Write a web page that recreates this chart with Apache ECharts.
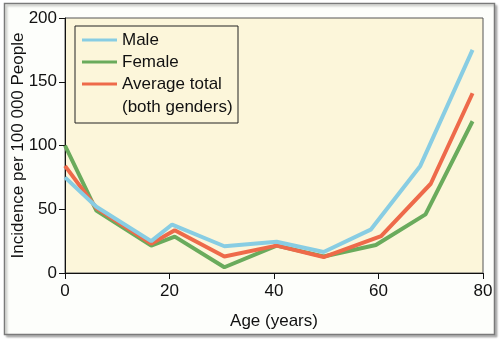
<!DOCTYPE html>
<html>
<head>
<meta charset="utf-8">
<script src="https://cdn.jsdelivr.net/npm/echarts@6/dist/echarts.min.js"></script>
<style>
  html, body { margin: 0; padding: 0; background: #ffffff; }
  #chart { width: 500px; height: 339px; }
</style>
</head>
<body>
<div id="chart"></div>
<script>
// Incidence per 100 000 people by age, [age, incidence] pairs
const maleData = [[0, 75], [6, 52], [16.5, 25], [20.5, 38], [30.5, 21], [40.5, 24.5], [49.5, 16.5], [58.5, 34], [68, 84], [78, 175]];
const femaleData = [[0, 100], [6, 49], [16.5, 21.5], [21, 28.5], [30.5, 4.5], [40.5, 21.5], [49.5, 13], [59.5, 22], [69, 46], [78, 119]];
const averageData = [[0, 84], [6, 51], [16.5, 23], [21, 33.5], [30.5, 13], [40.5, 21.5], [49.5, 12.5], [60.5, 29], [70, 70], [78, 141]];

const seriesNames = ['Male', 'Female', 'Average total'];
const averageNote = '(both genders)';
const seriesColors = ['#88cde3', '#6aab5c', '#ee6a4a'];
const xTicks = { min: 0, max: 80, interval: 20 };
const yTicks = { min: 0, max: 200, interval: 50 };

const font = 'Liberation Sans, Arial, Helvetica, sans-serif';
const chart = echarts.init(document.getElementById('chart'), null, { renderer: 'canvas' });

function lineSeries(name, data, color, z) {
  return {
    name: name,
    type: 'line',
    data: data,
    symbol: 'none',
    z: z,
    lineStyle: { color: color, width: 4 },
    itemStyle: { color: color }
  };
}

chart.setOption({
  animation: false,
  graphic: [{
    type: 'rect',
    z: -10,
    shape: { x: 4.5, y: 3.5, width: 490, height: 331 },
    style: { fill: '#fdfefb', stroke: '#7a7a7a', lineWidth: 1.5, shadowColor: 'rgba(0,0,0,0.25)', shadowOffsetX: 2, shadowOffsetY: 2, shadowBlur: 2 }
  }, {
    // second line of the "Average total" legend entry
    type: 'text',
    z: 100,
    left: 122,
    top: 99,
    style: { text: averageNote, fontFamily: font, fontSize: 17, fill: '#111111' }
  }],
  grid: {
    left: 65, top: 18, right: 17, bottom: 66,
    outerBoundsMode: 'none',
    containLabel: false,
    show: true, backgroundColor: '#fcf6da', borderColor: '#555555', borderWidth: 1
  },
  legend: {
    orient: 'vertical',
    left: 75, top: 26,
    padding: [3, 5, 28, 7],
    itemGap: 0,
    itemWidth: 35,
    itemHeight: 3,
    icon: 'rect',
    borderColor: '#222222',
    borderWidth: 1,
    backgroundColor: '#fcf6da',
    textStyle: { fontFamily: font, fontSize: 17, color: '#111111', lineHeight: 22, width: 111 },
    data: seriesNames
  },
  xAxis: {
    type: 'value',
    min: xTicks.min, max: xTicks.max, interval: xTicks.interval,
    name: 'Age (years)',
    nameLocation: 'middle',
    nameGap: 40,
    nameMoveOverlap: false,
    nameTextStyle: { fontFamily: font, fontSize: 17, color: '#111111' },
    axisLine: { show: true, lineStyle: { color: '#111111', width: 1 } },
    axisTick: { show: true, length: 6, lineStyle: { color: '#111111' } },
    axisLabel: { fontFamily: font, fontSize: 17, color: '#111111', margin: 10 },
    splitLine: { show: false }
  },
  yAxis: {
    type: 'value',
    min: yTicks.min, max: yTicks.max, interval: yTicks.interval,
    name: 'Incidence per 100 000 People',
    nameLocation: 'middle',
    nameGap: 38,
    nameMoveOverlap: false,
    nameTextStyle: { fontFamily: font, fontSize: 17, color: '#111111' },
    axisLine: { show: true, lineStyle: { color: '#111111', width: 1 } },
    axisTick: { show: true, length: 6, lineStyle: { color: '#111111' } },
    axisLabel: { fontFamily: font, fontSize: 17, color: '#111111', margin: 8 },
    splitLine: { show: false }
  },
  series: [
    lineSeries(seriesNames[1], femaleData, seriesColors[1], 2),
    lineSeries(seriesNames[2], averageData, seriesColors[2], 3),
    lineSeries(seriesNames[0], maleData, seriesColors[0], 4)
  ]
});
</script>
</body>
</html>
